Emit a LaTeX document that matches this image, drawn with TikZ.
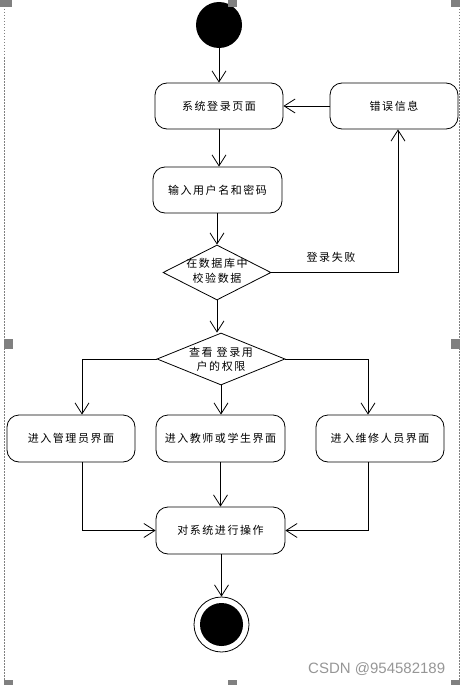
\documentclass[tikz,border=0pt]{standalone}
\usepackage{fontspec}
\usetikzlibrary{shapes.geometric,arrows.meta,calc}
\newfontfamily\cjk[LetterSpace=14]{Noto Sans CJK SC}
\newfontfamily\wmfont{Liberation Sans}
\definecolor{handlegray}{RGB}{128,128,128}
\definecolor{wmgray}{RGB}{150,150,150}
\tikzset{
  act/.style={draw, line width=0.8pt, rounded corners=12pt, minimum width=128pt, minimum height=46pt, inner sep=0pt, font=\cjk\fontsize{11pt}{15pt}\selectfont},
  dia/.style={draw, line width=0.8pt, diamond, inner sep=0pt},
  diatext/.style={align=center, font=\cjk\fontsize{11pt}{14.5pt}\selectfont},
  flow/.style={draw, line width=0.8pt, -{Straight Barb[length=11pt,width=14pt,line width=0.8pt]}},
  plain/.style={draw, line width=0.8pt},
  handle/.style={fill=handlegray, draw=none},
  frame/.style={draw=gray, line width=0.5pt, dash pattern=on 1.5pt off 1.5pt}
}
\begin{document}
\begin{tikzpicture}[x=1pt,y=-1pt]
\useasboundingbox (0,0) rectangle (460,685);
% selection frame
\draw[frame] (4.5,0) -- (4.5,685);
\draw[frame] (459,0) -- (459,685);

% nodes
\node[circle, fill=black, minimum size=46pt, inner sep=0pt] (start) at (219,25) {};
\node[act] (login) at (219,106) {系统登录页面};
\node[act] (err) at (394,106) {错误信息};
\node[act, minimum width=129pt] (input) at (217.5,190) {输入用户名和密码};
\node[dia, minimum width=108pt, minimum height=55pt] (check) at (217,272.5) {};
\node[diatext] (checktxt) at (217,271) {在数据库中\\校验数据};
\node[dia, minimum width=128pt, minimum height=52pt] (perm) at (221,359) {};
\node[diatext] (permtxt) at (221,359.5) {查看 登录用\\户的权限};
\node[act, minimum height=47pt] (admin) at (71,438.5) {进入管理员界面};
\node[act, minimum height=47pt, minimum width=129pt] (teach) at (220.5,438.5) {进入教师或学生界面};
\node[act, minimum height=47pt] (maint) at (380,438.5) {进入维修人员界面};
\node[act, minimum height=47pt, minimum width=129pt] (oper) at (220.5,530.5) {对系统进行操作};
\node[circle, draw, line width=0.8pt, minimum size=55pt, inner sep=0pt] (end) at (221.5,624.5) {};
\node[circle, fill=black, minimum size=43pt, inner sep=0pt] (endin) at (221.5,624.5) {};

% connectors
\draw[flow] (start) -- (login);
\draw[flow] (err.west) -- (login.east);
\draw[flow] (login.south) -- (login.south |- input.north);
\draw[flow] (input.south -| check.north) -- (check.north);
\coordinate (failcorner) at ($(err.south)+(4,0)$);
\draw[flow] (check.east) -| (failcorner);
\node[font=\cjk\fontsize{11pt}{12pt}\selectfont] (failtxt) at (331,257) {登录失败};
\draw[flow] (check.south) -- (check.south |- perm.north);
\coordinate (adminin) at ($(admin.north)+(11,0)$);
\coordinate (maintin) at ($(maint.north)+(-12,0)$);
\draw[flow] (perm.west) -| (adminin);
\draw[flow] (perm.east) -| (maintin);
\draw[flow] (perm.south) -- (perm.south |- teach.north);
\coordinate (adminout) at ($(admin.south)+(11,0)$);
\coordinate (maintout) at ($(maint.south)+(-12,0)$);
\draw[flow] (adminout) |- (oper.west);
\draw[flow] (maintout) |- (oper.east);
\draw[flow] (teach.south) -- (teach.south |- oper.north);
\draw[flow] (oper.south -| end.north) -- (end.north);

% watermark
\node[font=\wmfont\fontsize{15pt}{16pt}\selectfont, text=wmgray, anchor=west, inner sep=0pt] (wm) at (308,669) {CSDN @954582189};

% selection handles
\fill[handle] (0,0) rectangle (12,7);
\fill[handle] (228,0) rectangle (237,7);
\fill[handle] (451,0) rectangle (460,7);
\fill[handle] (4,339) rectangle (13,349);
\fill[handle] (451,339) rectangle (460,349);
\fill[handle] (4,680) rectangle (13,685);
\fill[handle] (228,680) rectangle (237,685);
\fill[handle] (451,680) rectangle (460,685);
\end{tikzpicture}
\end{document}
